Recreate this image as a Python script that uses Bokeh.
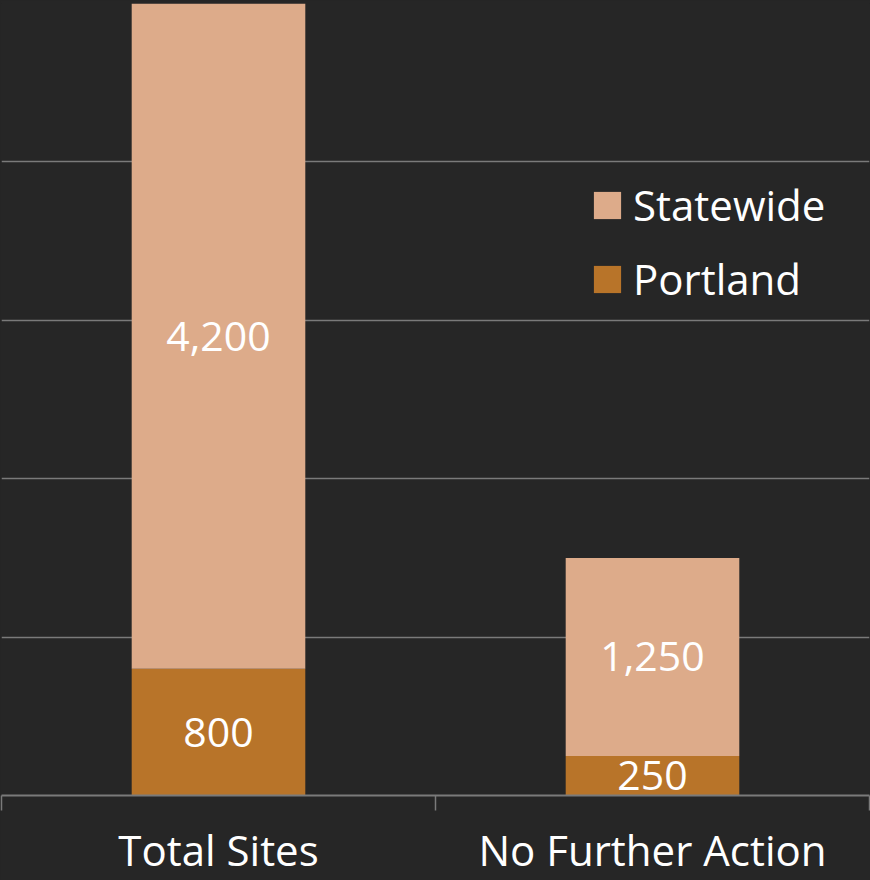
from bokeh.plotting import figure
from bokeh.models import (Range1d, FixedTicker, Legend, LegendItem, ColumnDataSource,
                          GlobalInlineStyleSheet)
from bokeh.core.properties import value
from bokeh.embed import file_html
from bokeh.resources import INLINE

# ---- data ----
categories = ["Total Sites", "No Further Action"]
portland = [800, 250]
statewide = [4200, 1250]
y_ticks = [0, 1000, 2000, 3000, 4000, 5000]

# ---- style ----
BG = "#262626"
C_PORT = "#B87429"
C_STATE = "#DDAB8A"
GRID = "#7A7A7A"
FONT = "Open Sans"
FS = "42px"

n = len(categories)
xpos = [i + 0.5 for i in range(n)]
bounds = list(range(n + 1))

src = ColumnDataSource(dict(x=xpos, Portland=portland, Statewide=statewide))

p = figure(width=870, height=880, output_backend="svg", toolbar_location=None,
           x_range=Range1d(0, n), y_range=Range1d(0, 5000),
           y_axis_location=None, min_border=0,
           min_border_left=1, min_border_right=1, min_border_top=3)
p.background_fill_color = BG
p.border_fill_color = BG
p.outline_line_color = None
p.stylesheets = [GlobalInlineStyleSheet(css="html, body { background: %s; }" % BG)]

r_port, r_state = p.vbar_stack(["Portland", "Statewide"], x="x", width=0.4,
                               color=[C_PORT, C_STATE], line_color=None, source=src)

# data labels at segment midpoints
lab_x = xpos + xpos
lab_y = [v / 2 for v in portland] + [pv + sv / 2 for pv, sv in zip(portland, statewide)]
lab_t = ["{:,}".format(v) for v in portland] + ["{:,}".format(v) for v in statewide]
p.text(x=lab_x, y=lab_y, text=lab_t, text_color="white", text_font=value(FONT),
       text_font_size="41px", text_align="center", text_baseline="middle")

# grid
p.xgrid.visible = False
p.ygrid.ticker = FixedTicker(ticks=y_ticks)
p.ygrid.grid_line_color = GRID
p.ygrid.grid_line_width = 1.5

# x axis
ax = p.xaxis[0]
ax.ticker = FixedTicker(ticks=xpos, minor_ticks=bounds)
ax.major_label_overrides = {x: c for x, c in zip(xpos, categories)}
ax.axis_line_color = GRID
ax.axis_line_width = 2
ax.major_tick_line_color = None
ax.major_tick_out = 0
ax.major_tick_in = 0
ax.minor_tick_line_color = GRID
ax.minor_tick_line_width = 1.5
ax.minor_tick_out = 15
ax.minor_tick_in = 0
ax.major_label_text_color = "white"
ax.major_label_text_font = FONT
ax.major_label_text_font_size = FS
ax.major_label_standoff = 10

legend = Legend(items=[LegendItem(label="Statewide", renderers=[r_state]),
                       LegendItem(label="Portland", renderers=[r_port])],
                location=(589, 488))
legend.background_fill_alpha = 0
legend.border_line_color = None
legend.label_text_color = "white"
legend.label_text_font = FONT
legend.label_text_font_size = FS
legend.glyph_width = 34
legend.glyph_height = 34
legend.label_standoff = 9
legend.spacing = 17
legend.padding = 0
legend.margin = 0
p.add_layout(legend)

open("out.html", "w").write(file_html(p, INLINE))
